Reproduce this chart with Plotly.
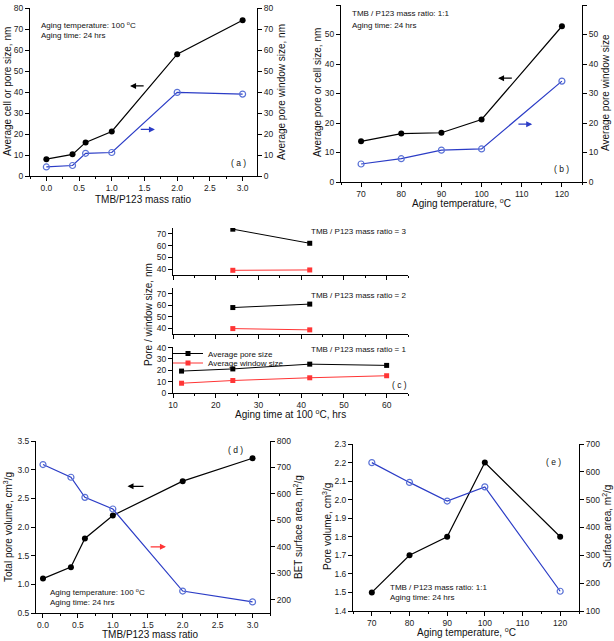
import plotly.graph_objects as go

W, H = 614, 641
FONT = "Liberation Sans, Arial, sans-serif"
BLUE = "#2b3cc6"
BLUE_MK = "#5a72d6"
RED = "#ff3535"

# ---------------- data ----------------
# (a) vs TMB/P123 mass ratio
a_ratio = [0.0, 0.4, 0.6, 1.0, 2.0, 3.0]
a_cell = [8.0, 10.3, 16.0, 21.2, 58.0, 74.2]
a_window = [4.3, 5.0, 10.8, 11.2, 39.8, 39.0]
# (b) vs aging temperature
b_temp = [70, 80, 90, 100, 120]
b_cell = [13.8, 16.4, 16.7, 21.2, 52.8]
b_window = [6.1, 7.9, 10.8, 11.2, 34.2]
# (c) vs aging time at 100 C
c3_time = [24, 42]
c3_pore = [74.0, 62.0]
c3_window = [39.0, 39.3]
c2_time = [24, 42]
c2_pore = [58.0, 61.0]
c2_window = [39.7, 38.6]
c1_time = [12, 24, 42, 60]
c1_pore = [19.3, 21.2, 25.4, 24.3]
c1_window = [8.6, 11.0, 13.4, 15.2]
# (d) vs mass ratio
d_ratio = [0.0, 0.4, 0.6, 1.0, 2.0, 3.0]
d_volume = [1.1, 1.3, 1.8, 2.2, 2.8, 3.2]
d_area = [711, 663, 587, 543, 233, 192]
# (e) vs temperature
e_temp = [70, 80, 90, 100, 120]
e_volume = [1.5, 1.7, 1.8, 2.2, 1.8]
e_area = [633, 562, 495, 546, 171]


def px(x):
    return x / W


def py(y):
    return 1 - y / H


fig = go.Figure()

black_line = dict(color="black", width=1.2)
blue_line = dict(color=BLUE, width=1.2)
filled = dict(symbol="circle", size=6, color="black")
opened = dict(symbol="circle-open", size=6, color=BLUE_MK, line=dict(width=1.2, color=BLUE_MK))

# (a)
fig.add_trace(go.Scatter(x=a_ratio, y=a_cell, mode="lines+markers", line=black_line, marker=filled,
                         xaxis="x", yaxis="y", showlegend=False))
fig.add_trace(go.Scatter(x=a_ratio, y=a_window, mode="lines+markers", line=blue_line, marker=opened,
                         xaxis="x", yaxis="y2", showlegend=False))
# (b)
fig.add_trace(go.Scatter(x=b_temp, y=b_cell, mode="lines+markers", line=black_line, marker=filled,
                         xaxis="x2", yaxis="y3", showlegend=False))
fig.add_trace(go.Scatter(x=b_temp, y=b_window, mode="lines+markers", line=blue_line, marker=opened,
                         xaxis="x2", yaxis="y4", showlegend=False))
# (c)
sq_b = dict(symbol="square", size=5, color="black")
sq_r = dict(symbol="square", size=5, color=RED)
fig.add_trace(go.Scatter(x=c3_time, y=c3_pore, mode="lines+markers", line=dict(color="black", width=1),
                         marker=sq_b, xaxis="x3", yaxis="y5", showlegend=False))
fig.add_trace(go.Scatter(x=c3_time, y=c3_window, mode="lines+markers", line=dict(color=RED, width=1),
                         marker=sq_r, xaxis="x3", yaxis="y5", showlegend=False))
fig.add_trace(go.Scatter(x=c2_time, y=c2_pore, mode="lines+markers", line=dict(color="black", width=1),
                         marker=sq_b, xaxis="x4", yaxis="y6", showlegend=False))
fig.add_trace(go.Scatter(x=c2_time, y=c2_window, mode="lines+markers", line=dict(color=RED, width=1),
                         marker=sq_r, xaxis="x4", yaxis="y6", showlegend=False))
fig.add_trace(go.Scatter(x=c1_time, y=c1_pore, mode="lines+markers", line=dict(color="black", width=1),
                         marker=sq_b, xaxis="x5", yaxis="y7", name="Average pore size", legend="legend"))
fig.add_trace(go.Scatter(x=c1_time, y=c1_window, mode="lines+markers", line=dict(color=RED, width=1),
                         marker=sq_r, xaxis="x5", yaxis="y7", name="Average window size", legend="legend2"))
# (d)
fig.add_trace(go.Scatter(x=d_ratio, y=d_volume, mode="lines+markers", line=black_line, marker=filled,
                         xaxis="x6", yaxis="y8", showlegend=False))
fig.add_trace(go.Scatter(x=d_ratio, y=d_area, mode="lines+markers", line=blue_line, marker=opened,
                         xaxis="x6", yaxis="y9", showlegend=False))
# (e)
fig.add_trace(go.Scatter(x=e_temp, y=e_volume, mode="lines+markers", line=black_line, marker=filled,
                         xaxis="x7", yaxis="y10", showlegend=False))
fig.add_trace(go.Scatter(x=e_temp, y=e_area, mode="lines+markers", line=blue_line, marker=opened,
                         xaxis="x7", yaxis="y11", showlegend=False))

TICKF = dict(family=FONT, size=8.5, color="#222")


def xax(domain, rng, anchor, dtick, minor, fmt=None, labels=True):
    d = dict(domain=[px(domain[0]), px(domain[1])], range=rng, anchor=anchor, dtick=dtick,
             showline=True, linecolor="black", linewidth=1, ticks="outside", ticklen=4,
             tickcolor="black", showgrid=False, zeroline=False, tickfont=TICKF, automargin=False,
             showticklabels=labels, minor=dict(ticks="outside", ticklen=2, dtick=minor, tickcolor="black"))
    if fmt:
        d["tickformat"] = fmt
    return d


def yax(domain, rng, anchor, dtick, side="left", overlaying=None, fmt=None):
    d = dict(domain=[py(domain[1]), py(domain[0])], range=rng, anchor=anchor, dtick=dtick,
             side=side, showline=True, linecolor="black", linewidth=1, ticks="outside", ticklen=4,
             tickcolor="black", showgrid=False, zeroline=False, tickfont=TICKF, automargin=False)
    if overlaying:
        d["overlaying"] = overlaying
        d.pop("domain")
    if fmt:
        d["tickformat"] = fmt
    return d


A = ([30, 257], [8, 176])
B = ([341, 582], [5, 182])
CX = [173, 408]
C1Y, C2Y, C3Y = [228, 275], [288, 334], [347, 393]
D = ([36, 270], [441, 613])
E = ([353, 579], [444, 611])

fig.update_layout(
    template="none",
    xaxis=xax(A[0], [-0.25, 3.22], "y", 0.5, 0.25, ".1f"),
    yaxis=yax(A[1], [0, 80], "x", 10),
    yaxis2=yax(A[1], [0, 80], "x", 10, side="right", overlaying="y"),
    xaxis2=xax(B[0], [65, 125], "y3", 10, 5),
    yaxis3=yax(B[1], [0, 60], "x2", 10),
    yaxis4=yax(B[1], [0, 60], "x2", 10, side="right", overlaying="y3"),
    xaxis3=xax(CX, [10, 65], "y5", 10, 5, labels=False),
    yaxis5=yax(C1Y, [35, 75], "x3", 10),
    xaxis4=xax(CX, [10, 65], "y6", 10, 5, labels=False),
    yaxis6=yax(C2Y, [35, 75], "x4", 10),
    xaxis5=xax(CX, [10, 65], "y7", 10, 5),
    yaxis7=yax(C3Y, [0, 40.5], "x5", 10),
    xaxis6=xax(D[0], [-0.1, 3.25], "y8", 0.5, 0.25, ".1f"),
    yaxis8=yax(D[1], [0.5, 3.5], "x6", 0.5, fmt=".1f"),
    yaxis9=yax(D[1], [150, 800], "x6", 100, side="right", overlaying="y8"),
    xaxis7=xax(E[0], [65, 125], "y10", 10, 5),
    yaxis10=yax(E[1], [1.4, 2.3], "x7", 0.1, fmt=".1f"),
    yaxis11=yax(E[1], [100, 700], "x7", 100, side="right", overlaying="y10"),
)

ann = []


def text(x, y, s, size=8, xanchor="left", angle=0, color="#111"):
    ann.append(dict(x=px(x), y=py(y), xref="paper", yref="paper", text=s, showarrow=False,
                    xanchor=xanchor, yanchor="middle", textangle=angle,
                    font=dict(family=FONT, size=size, color=color)))


def arrow(xh, xt, y, xref, yref, color):
    ann.append(dict(x=xh, y=y, ax=xt, ay=y, xref=xref, yref=yref, axref=xref, ayref=yref,
                    text="", showarrow=True, arrowhead=2, arrowsize=1, arrowwidth=1.2,
                    arrowcolor=color))


TS = 10  # axis title size
# (a)
text(7, 92, "Average cell or pore size, nm", TS, "center", -90)
text(281, 92, "Average pore window size, nm", TS, "center", -90)
text(143, 200, "TMB/P123 mass ratio", TS, "center")
text(39, 25, "Aging temperature: 100 <sup>o</sup>C")
text(39, 36, "Aging time: 24 hrs")
text(238, 163, "( a )", 8.5, "center")
arrow(1.28, 1.51, 42.9, "x", "y", "black")
arrow(1.66, 1.42, 22.2, "x", "y2", BLUE)
# (b)
text(317, 93, "Average pore or cell size, nm", TS, "center", -90)
text(605, 93, "Average pore window size", TS, "center", -90)
text(461, 203, "Aging temperature, <sup>o</sup>C", TS, "center")
text(350, 14, "TMB / P123 mass ratio: 1:1")
text(350, 26, "Aging time: 24 hrs")
text(561, 169, "( b )", 8.5, "center")
arrow(104.1, 107.9, 35.2, "x2", "y3", "black")
arrow(112.6, 108.8, 19.6, "x2", "y4", BLUE)
# (c)
text(148, 315, "Pore / window size, nm", TS, "center", -90)
text(290, 414, "Aging time at 100 <sup>o</sup>C, hrs", TS, "center")
text(408, 232, "TMB / P123 mass ratio = 3", 8, "right")
text(408, 295, "TMB / P123 mass ratio = 2", 8, "right")
text(408, 349, "TMB / P123 mass ratio = 1", 8, "right")
text(399, 385, "( c )", 8.5, "center")
# (d)
text(8, 527, "Total pore volume, cm<sup>3</sup>/g", TS, "center", -90)
text(298, 527, "BET surface area, m<sup>2</sup>/g", TS, "center", -90)
text(150, 634, "TMB/P123 mass ratio", TS, "center")
text(48, 592, "Aging temperature: 100 <sup>o</sup>C")
text(48, 602, "Aging time: 24 hrs")
text(235, 450, "( d )", 8.5, "center")
arrow(1.21, 1.46, 2.71, "x6", "y8", "black")
arrow(1.76, 1.52, 400, "x6", "y9", RED)
# (e)
text(327, 527, "Pore volume, cm<sup>3</sup>/g", TS, "center", -90)
text(607, 527, "Surface area, m<sup>2</sup>/g", TS, "center", -90)
text(466, 632, "Aging temperature, <sup>o</sup>C", TS, "center")
text(388, 587, "TMB / P123 mass ratio: 1:1")
text(388, 597, "Aging time: 24 hrs")
text(553, 462, "( e )", 8.5, "center")

LEG = dict(xanchor="left", yanchor="top", bgcolor="rgba(0,0,0,0)",
           font=dict(family=FONT, size=8, color="#111"), itemwidth=30, tracegroupgap=0)

fig.update_layout(
    annotations=ann,
    width=W, height=H,
    margin=dict(l=0, r=0, t=0, b=0),
    paper_bgcolor="white", plot_bgcolor="rgba(0,0,0,0)",
    font=dict(family=FONT, size=9, color="#111"),
    showlegend=True,
    legend=dict(x=px(168), y=py(339), **LEG),
    legend2=dict(x=px(168), y=py(348.5), **LEG),
)

fig.write_html("out.html", config={"displayModeBar": False},
               post_script="document.body.style.margin='0';document.body.style.padding='0';")
